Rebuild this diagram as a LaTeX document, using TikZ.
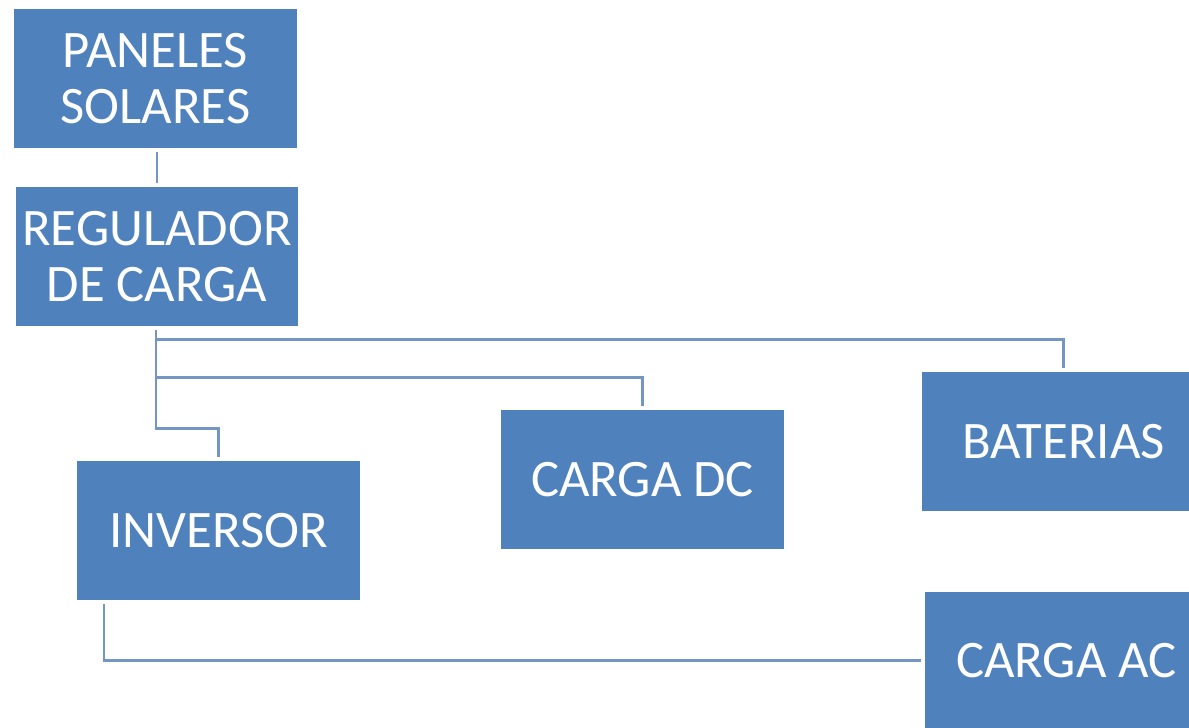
\documentclass[tikz,border=0pt]{standalone}
\usepackage{fontspec}
\setmainfont{Carlito}
\usetikzlibrary{positioning}
\definecolor{cajaazul}{HTML}{4F81BD}
\definecolor{lineaazul}{HTML}{7396C4}
\tikzset{
  caja/.style={fill=cajaazul, text=white, minimum width=5.66cm, minimum height=2.78cm,
    inner sep=0pt, align=center, font=\fontsize{30}{32}\selectfont},
  enlace/.style={draw=lineaazul, line width=1.7pt},
}
\begin{document}
\begin{tikzpicture}[x=0.02cm, y=-0.02cm]
  \useasboundingbox (0,0) rectangle (1189,727);
  % cajas
  \node[caja] (pan) at (155.5,78.5) {PANELES\\SOLARES};
  \node[caja] (reg) at (157,256.5) {REGULADOR\\DE CARGA};
  \node[caja] (inv) at (218.5,530.5) {INVERSOR};
  \node[caja] (dc) at (642.5,479.5) {CARGA DC};
  \node[caja] (bat) at (1063.5,441.5) {BATERIAS};
  \node[caja] (ac) at (1066.5,661) {CARGA AC};

  \coordinate (rama1) at (156,339);
  \coordinate (rama2) at (156,377);
  \coordinate (codoinv) at (218.5,428);
  \coordinate (codoac) at (104,660);

  % conexiones
  \draw[enlace, shorten <=0.08cm, shorten >=0.08cm] (pan.south -| reg.north) -- (reg.north);
  \draw[enlace, shorten <=0.08cm, shorten >=0.08cm] (reg.south -| rama1) |- (codoinv) -- (inv.north);
  \draw[enlace, shorten >=0.08cm] (rama1) -| (bat.north);
  \draw[enlace, shorten >=0.08cm] (rama2) -| (dc.north);
  \draw[enlace, shorten <=0.08cm, shorten >=0.08cm] (inv.south -| codoac) |- (ac.west |- codoac);
\end{tikzpicture}
\end{document}
